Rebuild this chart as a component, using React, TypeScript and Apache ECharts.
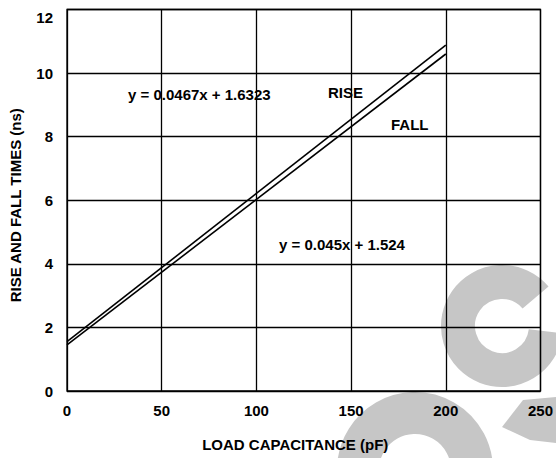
import React, { useEffect, useRef } from "react";
import * as echarts from "echarts";

const xValues = [0, 200];
const riseValues = [1.55, 10.88];
const fallValues = [1.45, 10.6];
const xTicks = [0, 50, 100, 150, 200, 250];
const yTicks = [0, 2, 4, 6, 8, 10, 12];
const riseLabel = "RISE";
const fallLabel = "FALL";
const riseEq = "y = 0.0467x + 1.6323";
const fallEq = "y = 0.045x + 1.524";

const FONT = "Liberation Sans, Arial, Helvetica, sans-serif";
const WM = "#c6c6c6";

export default function App() {
  const ref = useRef<HTMLDivElement>(null);
  useEffect(() => {
    if (!ref.current) return;
    const chart = echarts.init(ref.current, undefined, { renderer: "svg" });
    chart.setOption({
      animation: false,
      backgroundColor: "#fff",
      grid: {
        left: 66,
        right: 13,
        top: 9.5,
        bottom: 67,
        show: true,
        borderColor: "#000",
        borderWidth: 1.3,
        backgroundColor: "transparent",
      },
      xAxis: {
        type: "value",
        min: xTicks[0],
        max: xTicks[xTicks.length - 1],
        interval: 50,
        name: "LOAD CAPACITANCE (pF)",
        nameLocation: "middle",
        nameGap: 46,
        nameTextStyle: {
          fontFamily: FONT,
          fontWeight: "bold",
          fontSize: 15,
          color: "#000",
          padding: [0, 17, 0, 0],
        },
        axisLine: { show: false },
        axisTick: { show: false },
        axisLabel: {
          margin: 12,
          fontFamily: FONT,
          fontWeight: "bold",
          fontSize: 15,
          color: "#000",
        },
        splitLine: { show: true, lineStyle: { color: "#000", width: 1.3 } },
      },
      yAxis: {
        type: "value",
        min: yTicks[0],
        max: yTicks[yTicks.length - 1],
        interval: 2,
        name: "RISE AND FALL TIMES (ns)",
        nameLocation: "middle",
        nameGap: 44,
        nameTextStyle: {
          fontFamily: FONT,
          fontWeight: "bold",
          fontSize: 15,
          color: "#000",
          padding: [0, 10, 0, 0],
        },
        axisLine: { show: false },
        axisTick: { show: false },
        axisLabel: {
          margin: 14,
          fontFamily: FONT,
          fontWeight: "bold",
          fontSize: 15,
          color: "#000",
          verticalAlignMaxLabel: "top",
        },
        splitLine: { show: true, lineStyle: { color: "#000", width: 1.3 } },
      },
      graphic: [
        {
          type: "arc",
          z: -10,
          silent: true,
          shape: { cx: 502, cy: 326, r: 44, startAngle: 0.12, endAngle: 5.58, clockwise: true },
          style: { stroke: WM, lineWidth: 34, fill: null, lineCap: "butt" },
        },
        {
          type: "arc",
          z: -10,
          silent: true,
          shape: { cx: 415, cy: 470, r: 57, startAngle: 0, endAngle: Math.PI * 2, clockwise: true },
          style: { stroke: WM, lineWidth: 42, fill: null },
        },
        {
          type: "polygon",
          z: -10,
          silent: true,
          shape: {
            points: [
              [502, 427],
              [523, 400],
              [556, 397],
              [556, 443],
              [530, 440],
            ],
          },
          style: { fill: WM },
        },
        {
          type: "text",
          x: 128,
          y: 94,
          style: {
            text: riseEq,
            font: "bold 15px " + FONT,
            fill: "#000",
            verticalAlign: "middle",
          },
        },
        {
          type: "text",
          x: 279,
          y: 244,
          style: {
            text: fallEq,
            font: "bold 15px " + FONT,
            fill: "#000",
            verticalAlign: "middle",
          },
        },
        {
          type: "text",
          x: 328,
          y: 92,
          style: {
            text: riseLabel,
            font: "bold 15px " + FONT,
            fill: "#000",
            verticalAlign: "middle",
          },
        },
        {
          type: "text",
          x: 391,
          y: 124,
          style: {
            text: fallLabel,
            font: "bold 15px " + FONT,
            fill: "#000",
            verticalAlign: "middle",
          },
        },
      ],
      series: [
        {
          name: "Rise",
          type: "line",
          data: xValues.map((x, i) => [x, riseValues[i]]),
          symbol: "none",
          lineStyle: { color: "#000", width: 1.6 },
          z: 5,
        },
        {
          name: "Fall",
          type: "line",
          data: xValues.map((x, i) => [x, fallValues[i]]),
          symbol: "none",
          lineStyle: { color: "#000", width: 1.6 },
          z: 5,
        },
      ],
    });
    return () => chart.dispose();
  }, []);
  return (
    <div
      ref={ref}
      style={{ position: "fixed", left: 0, top: 0, width: 556, height: 458 }}
    />
  );
}
